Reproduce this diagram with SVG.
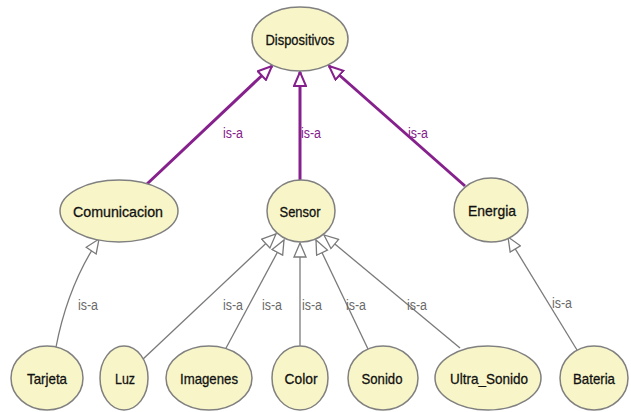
<svg xmlns="http://www.w3.org/2000/svg" width="631" height="412" viewBox="0 0 631 412">
<defs>
<style>
.node ellipse{fill:#f8f6c8;stroke:#808080;stroke-width:1.5}
.node text{font-family:"Liberation Sans",Arial,sans-serif;font-size:15px;fill:#111;stroke:#111;stroke-width:0.3;text-anchor:middle}
.p{stroke:#85208c;stroke-width:3;fill:none}
.g{stroke:#7a7a7a;stroke-width:1.3;fill:none}
.lp{font-family:"Liberation Sans",Arial,sans-serif;font-size:14px;fill:#85208c}
.lg{font-family:"Liberation Sans",Arial,sans-serif;font-size:14px;fill:#6a6a6a}
</style>
<marker id="ap" viewBox="0 0 16 14" markerWidth="16" markerHeight="14" refX="15" refY="7" orient="auto" markerUnits="userSpaceOnUse">
<path d="M1,1 L15,7 L1,13 z" fill="#fff" stroke="#85208c" stroke-width="2"/>
</marker>
<marker id="ag" viewBox="0 0 16 14" markerWidth="16" markerHeight="14" refX="15" refY="7" orient="auto" markerUnits="userSpaceOnUse">
<path d="M1,1 L15,7 L1,13 z" fill="#fff" stroke="#7a7a7a" stroke-width="1.3"/>
</marker>
</defs>
<rect width="631" height="412" fill="#fff"/>
<g id="connectors">
<line class="p" x1="147" y1="184" x2="272" y2="66" marker-end="url(#ap)"/>
<line class="p" x1="300" y1="180" x2="300" y2="72" marker-end="url(#ap)"/>
<line class="p" x1="465" y1="186" x2="329" y2="66" marker-end="url(#ap)"/>
<path class="g" d="M56,347 Q68,285 99,239" marker-end="url(#ag)"/>
<line class="g" x1="142" y1="360" x2="276" y2="234" marker-end="url(#ag)"/>
<line class="g" x1="225" y1="350" x2="284" y2="240" marker-end="url(#ag)"/>
<line class="g" x1="300" y1="346" x2="300" y2="243" marker-end="url(#ag)"/>
<line class="g" x1="368" y1="349" x2="316" y2="240" marker-end="url(#ag)"/>
<line class="g" x1="460" y1="348" x2="324" y2="235" marker-end="url(#ag)"/>
<line class="g" x1="577" y1="350" x2="508" y2="237" marker-end="url(#ag)"/>
<text class="lp" x="223" y="138" textLength="20" lengthAdjust="spacingAndGlyphs">is-a</text>
<text class="lp" x="301" y="138" textLength="20" lengthAdjust="spacingAndGlyphs">is-a</text>
<text class="lp" x="408" y="138" textLength="20" lengthAdjust="spacingAndGlyphs">is-a</text>
<text class="lg" x="78" y="310" textLength="20" lengthAdjust="spacingAndGlyphs">is-a</text>
<text class="lg" x="223" y="310" textLength="20" lengthAdjust="spacingAndGlyphs">is-a</text>
<text class="lg" x="262" y="310" textLength="20" lengthAdjust="spacingAndGlyphs">is-a</text>
<text class="lg" x="302" y="310" textLength="20" lengthAdjust="spacingAndGlyphs">is-a</text>
<text class="lg" x="346" y="310" textLength="20" lengthAdjust="spacingAndGlyphs">is-a</text>
<text class="lg" x="407" y="310" textLength="20" lengthAdjust="spacingAndGlyphs">is-a</text>
<text class="lg" x="552" y="308" textLength="20" lengthAdjust="spacingAndGlyphs">is-a</text>
</g>
<g id="Dispositivos" class="node"><ellipse cx="300" cy="39" rx="48" ry="32"/><text x="300" y="45" textLength="69" lengthAdjust="spacingAndGlyphs">Dispositivos</text></g>
<g id="Comunicacion" class="node"><ellipse cx="119" cy="211" rx="59" ry="31"/><text x="118" y="217" textLength="90" lengthAdjust="spacingAndGlyphs">Comunicacion</text></g>
<g id="Sensor" class="node"><ellipse cx="301" cy="211" rx="34" ry="31"/><text x="300" y="217" textLength="41" lengthAdjust="spacingAndGlyphs">Sensor</text></g>
<g id="Energia" class="node"><ellipse cx="491" cy="210" rx="37" ry="32"/><text x="492" y="216" textLength="48" lengthAdjust="spacingAndGlyphs">Energia</text></g>
<g id="Tarjeta" class="node"><ellipse cx="47" cy="378" rx="36" ry="32"/><text x="47" y="384" textLength="40" lengthAdjust="spacingAndGlyphs">Tarjeta</text></g>
<g id="Luz" class="node"><ellipse cx="124" cy="378" rx="24" ry="32"/><text x="125" y="384" textLength="20" lengthAdjust="spacingAndGlyphs">Luz</text></g>
<g id="Imagenes" class="node"><ellipse cx="209" cy="378" rx="43" ry="32"/><text x="209" y="384" textLength="58" lengthAdjust="spacingAndGlyphs">Imagenes</text></g>
<g id="Color" class="node"><ellipse cx="300" cy="378" rx="28" ry="32"/><text x="301" y="384" textLength="33" lengthAdjust="spacingAndGlyphs">Color</text></g>
<g id="Sonido" class="node"><ellipse cx="383" cy="378" rx="35" ry="32"/><text x="382" y="384" textLength="41" lengthAdjust="spacingAndGlyphs">Sonido</text></g>
<g id="Ultra_Sonido" class="node"><ellipse cx="488" cy="378" rx="53" ry="32"/><text x="489" y="384" textLength="78" lengthAdjust="spacingAndGlyphs">Ultra_Sonido</text></g>
<g id="Bateria" class="node"><ellipse cx="594" cy="378" rx="34" ry="32"/><text x="594" y="384" textLength="42" lengthAdjust="spacingAndGlyphs">Bateria</text></g>
</svg>
